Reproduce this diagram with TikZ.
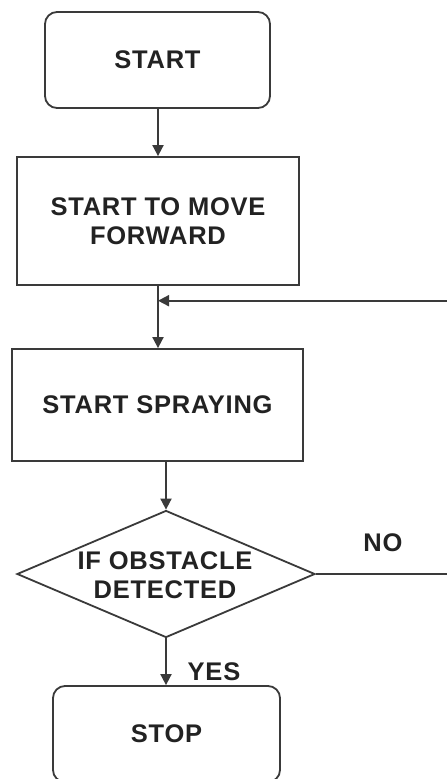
\documentclass[tikz,border=0pt]{standalone}
\usepackage{fontspec}
\setmainfont{Liberation Sans}[LetterSpace=3]
\usetikzlibrary{shapes.geometric,arrows.meta,calc}
\definecolor{linec}{HTML}{3A3A3A}
\definecolor{textc}{HTML}{222222}
\tikzset{
  box/.style={draw=linec, line width=1.8pt, rectangle, inner sep=0pt, align=center,
    text=textc, font=\fontsize{25.5}{29}\selectfont\bfseries},
  roundbox/.style={box, rounded corners=12pt},
  decbox/.style={draw=linec, line width=1.8pt, diamond, inner sep=0pt, aspect=2.35,
    minimum width=298pt, minimum height=127pt},
  lbl/.style={text=textc, font=\fontsize{25.5}{29}\selectfont\bfseries, inner sep=0pt, align=center},
  conn/.style={draw=linec, line width=1.8pt, -{Triangle[length=11pt,width=11pt]}},
  plain/.style={draw=linec, line width=1.8pt}
}
\begin{document}
\begin{tikzpicture}[x=1pt, y=-1pt]
\useasboundingbox (0,0) rectangle (447,779);
\clip (0,0) rectangle (447,779);
\fill[white] (0,0) rectangle (447,779);
\node[roundbox, minimum width=225pt, minimum height=96pt] (start) at (157.5,60) {START};
\node[box, minimum width=282pt, minimum height=128pt] (move) at (158,221) {START TO MOVE\\FORWARD};
\node[box, minimum width=291pt, minimum height=112pt] (spray) at (157.5,405) {START SPRAYING};
\node[decbox] (dec) at (166,574) {};
\node[lbl] (dectext) at (165,575) {IF OBSTACLE\\DETECTED};
\node[roundbox, minimum width=227pt, minimum height=96pt] (stop) at (166.5,734) {STOP};
\node[lbl] (no) at (383,543) {NO};
\node[lbl] (yes) at (214,672) {YES};
\coordinate (j) at (158,300.7);
\coordinate (far) at (470,300.7);
\draw[conn] (start.south -| move.north) -- (move.north);
\draw[conn] (move.south) -- (spray.north -| move.south);
\draw[conn] (far) -- (j);
\draw[conn] (spray.south -| dec.north) -- (dec.north);
\draw[conn] (dec.south) -- (stop.north -| dec.south);
\draw[plain] (dec.east) -| (far);
\end{tikzpicture}
\end{document}
